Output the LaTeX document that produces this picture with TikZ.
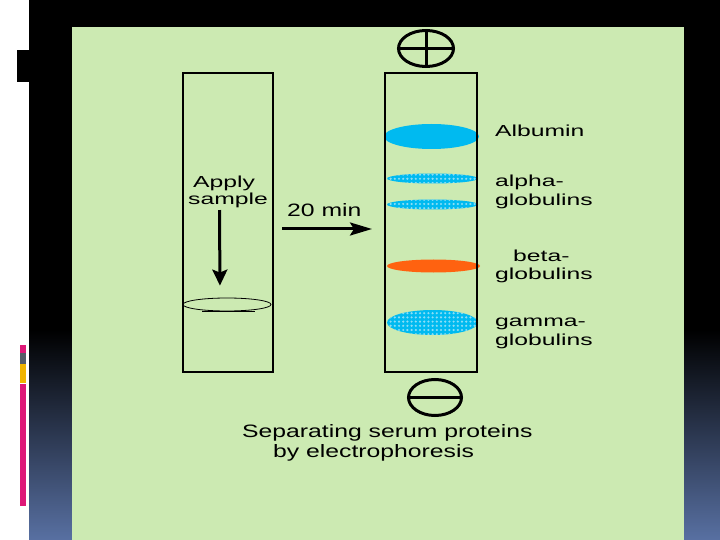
\documentclass[tikz,border=0pt]{standalone}
\usepackage{fontspec}
\usetikzlibrary{arrows.meta,patterns.meta,shapes.geometric}
\newfontfamily\labfont[FakeStretch=1.55]{Liberation Sans}
\newfontfamily\titfont[FakeStretch=1.38]{Liberation Sans}
\definecolor{panelgreen}{RGB}{204,234,178}
\definecolor{bandcyan}{RGB}{0,186,240}
\definecolor{dotlight}{RGB}{140,222,245}
\definecolor{bandorange}{RGB}{255,98,16}
\definecolor{bottomblue}{RGB}{88,112,162}
\definecolor{barmag}{RGB}{222,24,120}
\definecolor{bargray}{RGB}{84,92,104}
\definecolor{baryel}{RGB}{240,180,0}
\begin{document}
\begin{tikzpicture}[x=1bp,y=-1bp,
  lab/.style={font=\labfont\fontsize{16}{19}\selectfont, inner sep=0pt, anchor=base west, text=black},
  tit/.style={font=\titfont\fontsize{18}{21}\selectfont, inner sep=0pt, anchor=base west, text=black},
  colbox/.style={draw=black, line width=2bp, rectangle, inner sep=0pt, fill=none},
  solidband/.style={ellipse, inner sep=0pt, draw=none, fill=#1},
  dotband/.style={ellipse, inner sep=0pt, draw=none, fill=bandcyan,
     postaction={pattern={Dots[distance=4.2bp, radius=1.2bp]}, pattern color=dotlight}},
  pole/.style={ellipse, draw=black, line width=3bp, inner sep=0pt},
  bigarrow/.style={line width=3bp, -{Stealth[length=22bp, width=13bp, inset=4bp]}},
  downarrow/.style={line width=3bp, -{Stealth[length=16bp, width=15bp, inset=3bp]}}
]
\useasboundingbox (0,0) rectangle (720,540);
% slide background
\fill[white] (0,0) rectangle (29,540);
\fill[black] (29,0) rectangle (720,540);
\shade[top color=black, bottom color=bottomblue] (29,330) rectangle (720,540);
\fill[black] (17,50) rectangle (29,82);
\fill[barmag] (20,345) rectangle (26,353);
\fill[bargray] (20,353) rectangle (26,364);
\fill[baryel] (20,364) rectangle (26,383);
\fill[barmag] (20,384) rectangle (26,506);
% panel
\fill[panelgreen] (72,27) rectangle (684,540);

% bands
\node[solidband=bandcyan, minimum width=95bp, minimum height=25bp] (alb) at (431.5,136.5) {};
\node[dotband, minimum width=91bp, minimum height=10bp] (alphaA) at (432.5,178.5) {};
\node[dotband, minimum width=91bp, minimum height=10bp] (alphaB) at (432.5,204.5) {};
\node[solidband=bandorange, minimum width=93bp, minimum height=13bp] (beta) at (433.5,266) {};
\node[dotband, minimum width=91bp, minimum height=25bp] (gamma) at (432.5,322.5) {};

% columns
\node[colbox, minimum width=90bp, minimum height=299bp] (lcol) at (228,222.5) {};
\node[colbox, minimum width=92bp, minimum height=299bp] (rcol) at (431,222.5) {};

% poles
\node[pole, minimum width=55bp, minimum height=36bp] (plus) at (426,48.5) {};
\draw[line width=3bp] (plus.west) -- (plus.east);
\draw[line width=3bp] (plus.north) -- (plus.south);
\node[pole, minimum width=53bp, minimum height=36bp] (minus) at (435,397.5) {};
\draw[line width=3bp] (minus.west) -- (minus.east);

% sample spot
\node[ellipse, draw=black, line width=0.8bp, inner sep=0pt, minimum width=88bp, minimum height=13bp] (spot) at (227,304.5) {};
\draw[line width=1.8bp] ([xshift=-25bp]spot.south) -- ([xshift=28bp]spot.south);

% texts
\node[lab] (apply) at (193,188) {Apply};
\node[lab] (sample) at (188,205) {sample};
\node[tit] (time) at (287,217) {20 min};
\node[lab] (talb) at (495,137) {Albumin};
\node[lab] (talpha) at (495,187) {alpha-};
\node[lab] (talphag) at (495,206) {globulins};
\node[lab] (tbeta) at (513,262) {beta-};
\node[lab] (tbetag) at (495,280) {globulins};
\node[lab] (tgamma) at (495,326) {gamma-};
\node[lab] (tgammag) at (495,345) {globulins};
\node[tit] (cap1) at (242,437) {Separating serum proteins};
\node[tit] (cap2) at (273,457) {by electrophoresis};

% arrows
\draw[downarrow, shorten <=1.5bp, shorten >=12bp] ([xshift=-8.5bp]sample.south) -- ([xshift=-7bp]spot.north);
\draw[bigarrow, shorten <=8bp, shorten >=12bp] ([yshift=-6.5bp]lcol.east) -- ([yshift=-6.5bp]rcol.west);
\end{tikzpicture}
\end{document}
